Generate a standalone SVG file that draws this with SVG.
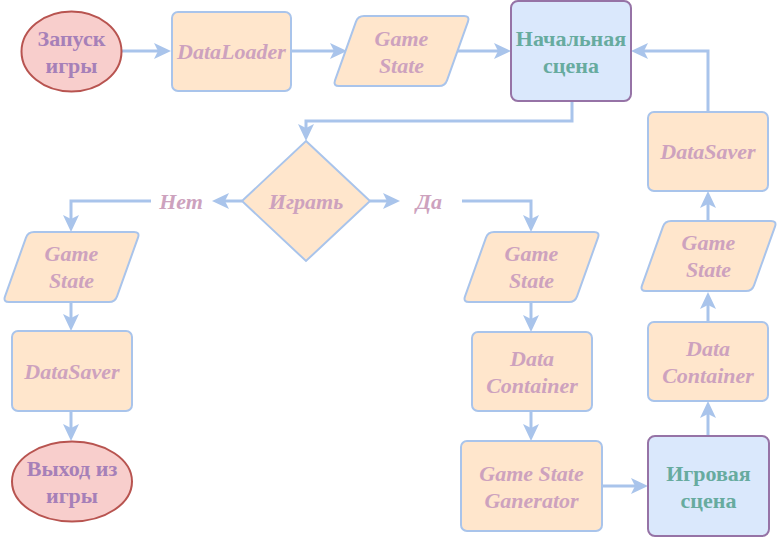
<svg xmlns="http://www.w3.org/2000/svg" xmlns:xlink="http://www.w3.org/1999/xlink" width="779" height="537" viewBox="0 0 779 537">
<style>
.proc{fill:#ffe6cc;stroke:#a9c4eb;stroke-width:2}
.term{fill:#f8cecc;stroke:#b85450;stroke-width:2}
.scene{fill:#dae8fc;stroke:#9673a6;stroke-width:2}
.edge{fill:none;stroke:#a9c4eb;stroke-width:3}
text{font-family:"Liberation Serif","Times New Roman",serif;font-size:22px;font-weight:bold;text-anchor:middle;dominant-baseline:central}
.it{font-style:italic;fill:#cda2be}
.tt{fill:#a680b8}
.st{fill:#67ab9f}
</style>
<defs>
<marker id="arr" markerUnits="userSpaceOnUse" markerWidth="20" markerHeight="20" refX="13" refY="8" orient="auto">
<path d="M0,0 L17,8 L0,16 L4,8 Z" fill="#a9c4eb"/>
</marker>
<path id="para" d="M31,0 H131 Q137,0 134.98,5.65 L114.02,64.35 Q112,70 106,70 H6 Q0,70 2.02,64.35 L22.98,5.65 Q25,0 31,0 Z"/>
</defs>
<g id="connectors" class="edge" marker-end="url(#arr)">
<path d="M122,51 H167"/>
<path d="M291,51 H343"/>
<path d="M457,51 H507"/>
<path d="M572,101 V121 H306 V137"/>
<path d="M242,201 H216"/>
<path d="M151,201 H71 V228"/>
<path d="M370,201 H396"/>
<path d="M462,201 H531 V228"/>
<path d="M71,302 V327"/>
<path d="M71,411 V437"/>
<path d="M531,302 V328"/>
<path d="M531,411 V437"/>
<path d="M602,486 H644"/>
<path d="M708,436 V405"/>
<path d="M708,322 V296"/>
<path d="M708,221 V195"/>
<path d="M708,112 V51 H635"/>
</g>
<g id="start">
<ellipse class="term" cx="71.5" cy="51.5" rx="50" ry="40"/>
<text class="tt" x="71.5" y="38">Запуск</text>
<text class="tt" x="71.5" y="65">игры</text>
</g>
<g id="dataloader">
<rect class="proc" x="172" y="12" width="119" height="79" rx="6"/>
<text class="it" x="231.5" y="51">DataLoader</text>
</g>
<g id="gamestate-top">
<use xlink:href="#para" class="proc" x="333" y="16"/>
<text class="it" x="401.5" y="38">Game</text>
<text class="it" x="401.5" y="65">State</text>
</g>
<g id="start-scene">
<rect class="scene" x="511" y="1" width="120" height="100" rx="7"/>
<text class="st" x="571" y="38">Начальная</text>
<text class="st" x="571" y="65">сцена</text>
</g>
<g id="decision">
<polygon class="proc" points="306,141 370,201 306,261 242,201"/>
<text class="it" x="306" y="201">Играть</text>
</g>
<g id="label-no">
<text class="it" x="181" y="201">Нет</text>
</g>
<g id="label-yes">
<text class="it" x="429" y="201">Да</text>
</g>
<g id="gamestate-left">
<use xlink:href="#para" class="proc" x="3" y="232"/>
<text class="it" x="71.5" y="253">Game</text>
<text class="it" x="71.5" y="280">State</text>
</g>
<g id="datasaver-left">
<rect class="proc" x="12" y="331" width="120" height="80" rx="6"/>
<text class="it" x="72" y="371">DataSaver</text>
</g>
<g id="exit">
<ellipse class="term" cx="72" cy="481.5" rx="60" ry="40"/>
<text class="tt" x="72" y="468">Выход из</text>
<text class="tt" x="72" y="495">игры</text>
</g>
<g id="gamestate-mid">
<use xlink:href="#para" class="proc" x="463" y="232"/>
<text class="it" x="531.5" y="253">Game</text>
<text class="it" x="531.5" y="280">State</text>
</g>
<g id="datacontainer-mid">
<rect class="proc" x="472" y="332" width="120" height="79" rx="6"/>
<text class="it" x="532" y="358">Data</text>
<text class="it" x="532" y="385">Container</text>
</g>
<g id="generator">
<rect class="proc" x="461" y="441" width="141" height="90" rx="6"/>
<text class="it" x="531.5" y="473">Game State</text>
<text class="it" x="531.5" y="500">Ganerator</text>
</g>
<g id="game-scene">
<rect class="scene" x="648" y="436" width="121" height="100" rx="7"/>
<text class="st" x="708.5" y="473">Игровая</text>
<text class="st" x="708.5" y="500">сцена</text>
</g>
<g id="datacontainer-right">
<rect class="proc" x="648" y="322" width="120" height="79" rx="6"/>
<text class="it" x="708" y="348">Data</text>
<text class="it" x="708" y="375">Container</text>
</g>
<g id="gamestate-right">
<use xlink:href="#para" class="proc" x="640" y="221"/>
<text class="it" x="708.5" y="242">Game</text>
<text class="it" x="708.5" y="269">State</text>
</g>
<g id="datasaver-right">
<rect class="proc" x="648" y="112" width="120" height="79" rx="6"/>
<text class="it" x="708" y="151">DataSaver</text>
</g>
</svg>
